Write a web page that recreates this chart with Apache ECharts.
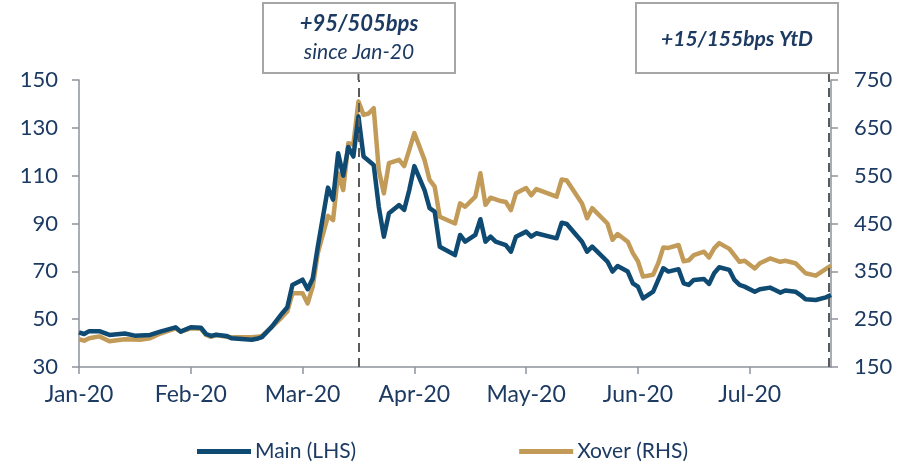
<!DOCTYPE html>
<html>
<head>
<meta charset="utf-8">
<script src="https://cdn.jsdelivr.net/npm/echarts@6/dist/echarts.min.js"></script>
<style>
  html, body { margin: 0; padding: 0; background: #fff; }
  #chart { width: 916px; height: 465px; }
</style>
</head>
<body>
<div id="chart"></div>
<script>
// x values are trading-day indices from 1 Jan 2020, 22 days per month tick
var monthLabels = ['Jan-20', 'Feb-20', 'Mar-20', 'Apr-20', 'May-20', 'Jun-20', 'Jul-20'];
var monthTicks = [0, 22, 44, 66, 88, 110, 132];

var mainDays = [0, 1, 2, 4, 6, 9, 11, 14, 16, 19, 20, 22, 24, 25, 26, 27, 29, 30, 34, 35, 36, 38, 40, 41, 42,
  44, 45, 46, 47, 49, 50, 51, 52, 53, 54, 55, 56, 58, 59, 60, 61, 63, 64, 65, 66, 68, 69, 70, 71, 74, 75,
  76, 78, 79, 80, 81, 82, 84, 85, 86, 88, 89, 90, 94, 95, 96, 99, 100, 101, 104, 105, 106, 108, 109, 110,
  111, 113, 114, 115, 116, 118, 119, 120, 121, 123, 124, 125, 126, 128, 129, 130, 131, 133, 134, 136, 137,
  138, 139, 141, 142, 143, 145, 147, 148];
var mainValues = [44.5, 43.8, 45, 45, 43.4, 44, 43.1, 43.4, 44.8, 46.6, 44.8, 46.6, 46.4, 43.8, 43, 43.5, 43, 42, 41.4, 41.8, 42.5, 47, 52.5, 55, 64.3,
  66.5, 62.5, 67, 80.3, 105, 100, 119.4, 110, 122, 118, 134.7, 118, 114.5, 97, 84.5, 94.3, 97.7, 95.7, 104, 114, 104, 96.4, 95, 80.3, 76.8, 85.2,
  82.4, 85.2, 91.8, 82.4, 84.5, 82.4, 81, 78.2, 84.5, 86.6, 84.5, 85.9, 83.8, 90.3, 89.8, 82.4, 78.2, 80.3, 74.1, 69.9, 72.2, 69.9, 65, 63.6,
  58.7, 61.5, 66.4, 71.3, 69.9, 70.9, 65, 64.3, 66.4, 66.8, 64.7, 69.2, 71.7, 70.6, 66.4, 64.3, 63.6, 61.5, 62.5, 63.2, 62.2,
  61.1, 62, 61.5, 60.1, 58.3, 58, 59.1, 60.1];

var xoverDays = [0, 1, 2, 4, 6, 9, 12, 14, 16, 19, 20, 22, 24, 25, 26, 27, 29, 30, 34, 35, 36, 38, 40, 41, 42,
  44, 45, 46, 47, 49, 50, 51, 52, 53, 54, 55, 56, 57, 58, 59, 60, 61, 63, 64, 65, 66, 68, 69, 70, 71, 74, 75,
  76, 78, 79, 80, 81, 83, 84, 85, 86, 88, 89, 90, 94, 95, 96, 99, 100, 101, 104, 105, 106, 108, 109, 110,
  111, 113, 114, 115, 116, 118, 119, 120, 121, 123, 124, 125, 126, 128, 130, 131, 133, 134, 136, 138,
  139, 141, 143, 145, 147, 148];
var xoverValues = [208, 205, 210, 214, 204, 208, 207, 210, 220, 231, 224, 231, 230, 217, 213, 217, 213, 212, 212, 213, 215, 234, 255, 266, 304,
  304, 283, 318, 388, 466, 457, 555, 520, 618, 615, 705, 677, 680, 691, 562, 513, 576, 583, 570, 604, 639, 583, 541, 527, 464, 450, 492,
  485, 506, 555, 489, 504, 497, 495, 478, 513, 524, 509, 522, 506, 542, 540, 492, 461, 482, 450, 416, 428, 412, 388, 371,
  339, 343, 367, 400, 399, 405, 371, 373, 384, 391, 379, 398, 409, 397, 370, 372, 356, 367, 377, 370,
  372, 367, 346, 341, 355, 362];

// annotation markers (trading-day index)
var markDays = [55, 147.6];

var NAVY = '#0f4a72';
var GOLD = '#c39b58';
var TEXT = '#1c3a62';
var AXIS = '#8d929c';
var FONT = 'Lato, "DejaVu Sans", sans-serif';

function pairs(xs, ys) {
  return xs.map(function (x, i) { return [x, ys[i]]; });
}

var chart = echarts.init(document.getElementById('chart'));

var option = {
  animation: false,
  textStyle: { fontFamily: FONT },
  grid: { left: 79, right: 85, top: 80, bottom: 98, containLabel: false },
  legend: {
    left: 192,
    top: 436,
    itemWidth: 54,
    itemHeight: 5,
    itemGap: 163,
    icon: 'rect',
    textStyle: { color: TEXT, fontSize: 21, fontFamily: FONT, padding: [0, 0, 0, -1] },
    data: ['Main (LHS)', 'Xover (RHS)']
  },
  xAxis: {
    type: 'value',
    min: 0,
    max: 148,
    splitLine: { show: false },
    axisLine: { lineStyle: { color: AXIS, width: 1.5 } },
    axisTick: { show: true, length: 7, customValues: monthTicks, lineStyle: { color: AXIS, width: 1.5 } },
    axisLabel: {
      customValues: monthTicks,
      color: TEXT,
      fontSize: 23,
      margin: 16,
      formatter: function (v) { return monthLabels[monthTicks.indexOf(v)] || ''; }
    }
  },
  yAxis: [
    {
      type: 'value',
      min: 30,
      max: 150,
      interval: 20,
      position: 'left',
      splitLine: { show: false },
      axisLine: { show: true, lineStyle: { color: AXIS, width: 1.5 } },
      axisTick: { show: true, length: 7, lineStyle: { color: AXIS, width: 1.5 } },
      axisLabel: { color: TEXT, fontSize: 22, margin: 21 }
    },
    {
      type: 'value',
      min: 150,
      max: 750,
      interval: 100,
      position: 'right',
      splitLine: { show: false },
      axisLine: { show: true, lineStyle: { color: AXIS, width: 1.5 } },
      axisTick: { show: true, length: 7, lineStyle: { color: AXIS, width: 1.5 } },
      axisLabel: { color: TEXT, fontSize: 22, margin: 23 }
    }
  ],
  series: [
    {
      name: 'Main (LHS)',
      type: 'line',
      yAxisIndex: 0,
      symbol: 'none',
      z: 3,
      lineStyle: { color: NAVY, width: 4.5, join: 'round' },
      itemStyle: { color: NAVY },
      data: pairs(mainDays, mainValues),
      markLine: {
        silent: true,
        symbol: 'none',
        label: { show: false },
        lineStyle: { color: '#5a5a5a', width: 2, type: [9, 6] },
        data: markDays.map(function (d) { return { xAxis: d }; })
      }
    },
    {
      name: 'Xover (RHS)',
      type: 'line',
      yAxisIndex: 1,
      symbol: 'none',
      z: 2,
      lineStyle: { color: GOLD, width: 4.5, join: 'round' },
      itemStyle: { color: GOLD },
      data: pairs(xoverDays, xoverValues)
    }
  ]
};

chart.setOption(option);

// annotation boxes, with a short dashed link down to the plot area
var x1 = chart.convertToPixel({ xAxisIndex: 0 }, markDays[0]);
var x2 = chart.convertToPixel({ xAxisIndex: 0 }, markDays[1]);

chart.setOption({
  graphic: [
    { type: 'line', shape: { x1: x1, y1: 73, x2: x1, y2: 80 }, style: { stroke: '#5a5a5a', lineWidth: 2 } },
    { type: 'line', shape: { x1: x2, y1: 73, x2: x2, y2: 80 }, style: { stroke: '#5a5a5a', lineWidth: 2 } },
    {
      type: 'rect', shape: { x: 263, y: 3, width: 192, height: 70 },
      style: { fill: '#fff', stroke: '#a6a6a6', lineWidth: 2 }, z: 10
    },
    {
      type: 'text', x: 359, y: 24, z: 11,
      style: { text: '+95/505bps', fill: TEXT, font: 'italic bold 22px ' + FONT, align: 'center', verticalAlign: 'middle' }
    },
    {
      type: 'text', x: 359, y: 52, z: 11,
      style: { text: 'since Jan-20', fill: TEXT, font: 'italic 21px ' + FONT, align: 'center', verticalAlign: 'middle' }
    },
    {
      type: 'rect', shape: { x: 636, y: 3, width: 202, height: 70 },
      style: { fill: '#fff', stroke: '#a6a6a6', lineWidth: 2 }, z: 10
    },
    {
      type: 'text', x: 737, y: 39, z: 11,
      style: { text: '+15/155bps YtD', fill: TEXT, font: 'italic bold 21px ' + FONT, align: 'center', verticalAlign: 'middle' }
    }
  ]
});
</script>
</body>
</html>
